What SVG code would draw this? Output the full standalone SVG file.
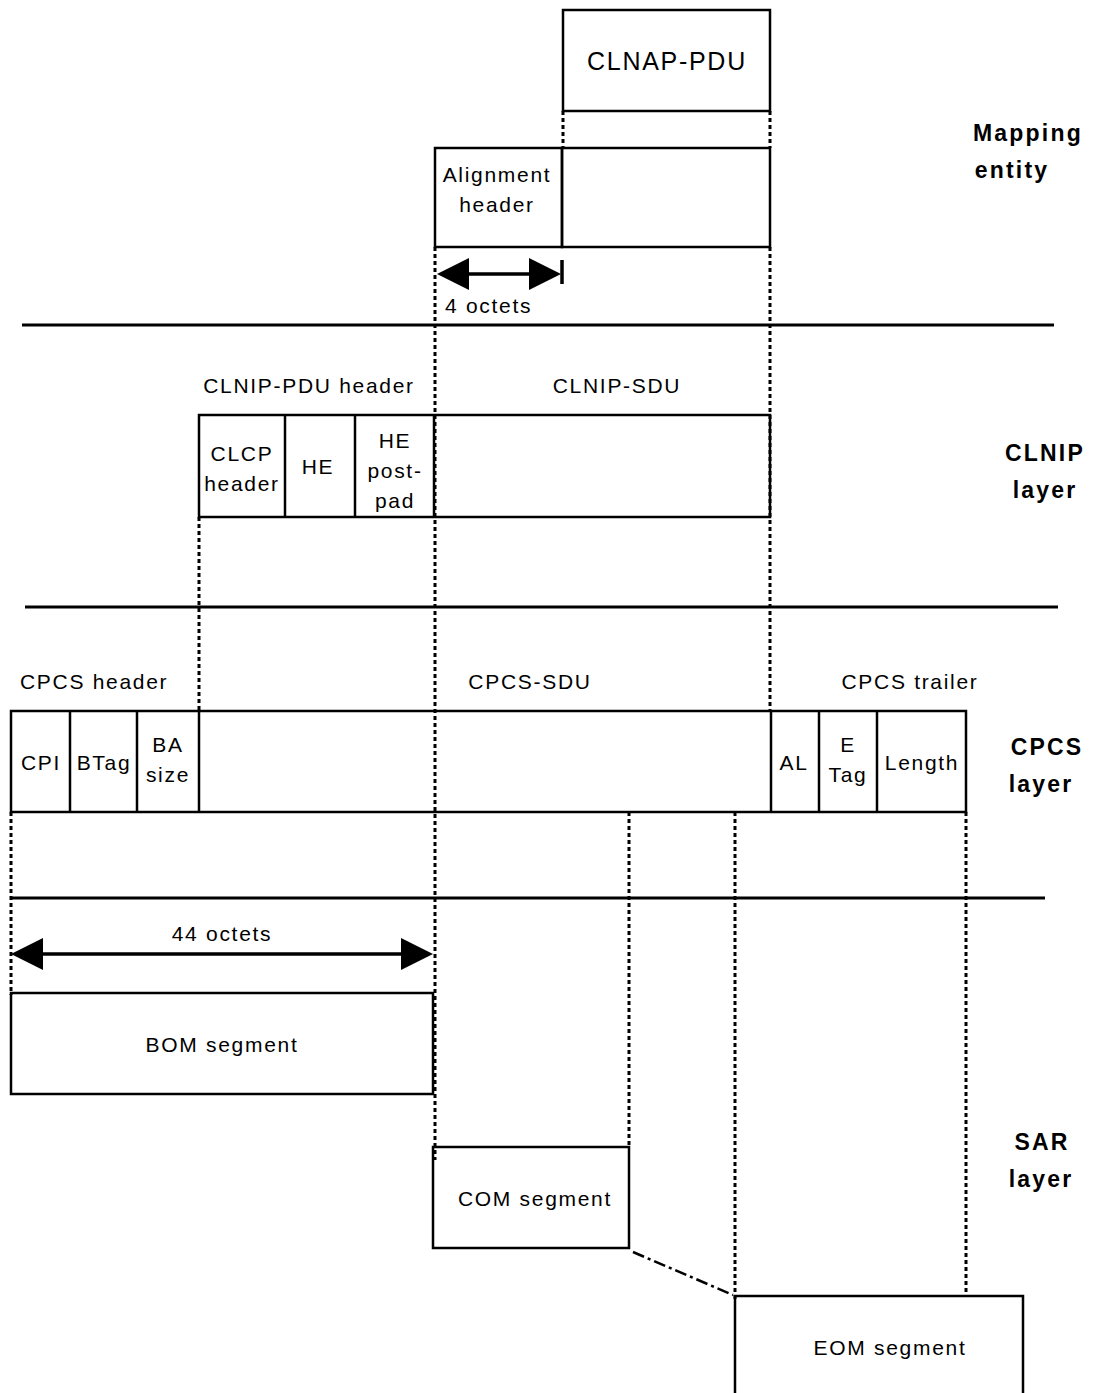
<svg xmlns="http://www.w3.org/2000/svg" width="1099" height="1393" viewBox="0 0 1099 1393">
<style>
.box{fill:none;stroke:#000;stroke-width:2.5}
.sep{stroke:#000;stroke-width:2.5}
.dot{stroke:#000;stroke-width:3;stroke-dasharray:4 3;fill:none}
.rule{stroke:#000;stroke-width:3}
.t{font-family:"Liberation Sans",Arial,sans-serif;font-size:21px;letter-spacing:1.7px;fill:#000}
.m{text-anchor:middle}
.b{font-family:"Liberation Sans",Arial,sans-serif;font-size:23px;font-weight:bold;letter-spacing:2.2px;text-anchor:middle;fill:#000}
.arr{stroke:#000;stroke-width:3.5}
</style>
<g id="rules">
<line class="rule" x1="22" y1="325" x2="1054" y2="325"/>
<line class="rule" x1="25" y1="607" x2="1058" y2="607"/>
<line class="rule" x1="11" y1="898" x2="1045" y2="898"/>
</g>
<g id="layer-labels">
<text class="b" x="1028" y="141">Mapping</text>
<text class="b" x="1012" y="178">entity</text>
<text class="b" x="1045" y="461">CLNIP</text>
<text class="b" x="1045" y="498">layer</text>
<text class="b" x="1047" y="755">CPCS</text>
<text class="b" x="1041" y="792">layer</text>
<text class="b" x="1042" y="1150">SAR</text>
<text class="b" x="1041" y="1187">layer</text>
</g>
<g id="clnap-pdu">
<rect class="box" x="563" y="10" width="207" height="101"/>
<text class="t m" x="667" y="70" style="font-size:25px">CLNAP-PDU</text>
</g>
<g id="alignment-header">
<rect class="box" x="435" y="148" width="127" height="99"/>
<text class="t m" x="497" y="182">Alignment</text>
<text class="t m" x="497" y="212">header</text>
</g>
<g id="mapping-payload">
<rect class="box" x="562" y="148" width="208" height="99"/>
</g>
<g id="four-octets">
<line class="arr" x1="455" y1="274" x2="540" y2="274"/>
<polygon points="437,274 469,258 469,290"/>
<polygon points="561,274 529,258 529,290"/>
<line class="arr" x1="562" y1="260" x2="562" y2="284"/>
<text class="t" x="445" y="313">4 octets</text>
</g>
<g id="clnip-pdu">
<text class="t m" x="309" y="393">CLNIP-PDU header</text>
<text class="t m" x="617" y="393">CLNIP-SDU</text>
<rect class="box" x="199" y="415" width="571" height="102"/>
<line class="sep" x1="285" y1="415" x2="285" y2="517"/>
<line class="sep" x1="355" y1="415" x2="355" y2="517"/>
<line class="sep" x1="434" y1="415" x2="434" y2="517"/>
<text class="t m" x="242" y="461">CLCP</text>
<text class="t m" x="242" y="491">header</text>
<text class="t m" x="318" y="474">HE</text>
<text class="t m" x="395" y="448">HE</text>
<text class="t m" x="395" y="478">post-</text>
<text class="t m" x="395" y="508">pad</text>
</g>
<g id="cpcs-pdu">
<text class="t" x="20" y="689">CPCS header</text>
<text class="t m" x="530" y="689">CPCS-SDU</text>
<text class="t m" x="910" y="689">CPCS trailer</text>
<rect class="box" x="11" y="711" width="955" height="101"/>
<line class="sep" x1="70" y1="711" x2="70" y2="812"/>
<line class="sep" x1="137" y1="711" x2="137" y2="812"/>
<line class="sep" x1="199" y1="711" x2="199" y2="812"/>
<line class="sep" x1="771" y1="711" x2="771" y2="812"/>
<line class="sep" x1="819" y1="711" x2="819" y2="812"/>
<line class="sep" x1="877" y1="711" x2="877" y2="812"/>
<text class="t m" x="41" y="770">CPI</text>
<text class="t m" x="104" y="770">BTag</text>
<text class="t m" x="168" y="752">BA</text>
<text class="t m" x="168" y="782">size</text>
<text class="t m" x="794" y="770">AL</text>
<text class="t m" x="848" y="752">E</text>
<text class="t m" x="848" y="782">Tag</text>
<text class="t m" x="922" y="770">Length</text>
</g>
<g id="forty-four-octets">
<line class="arr" x1="30" y1="954" x2="415" y2="954"/>
<polygon points="11,954 43,938 43,970"/>
<polygon points="433,954 401,938 401,970"/>
<text class="t m" x="222" y="941">44 octets</text>
</g>
<g id="bom-segment">
<rect class="box" x="11" y="993" width="422" height="101"/>
<text class="t m" x="222" y="1052">BOM segment</text>
</g>
<g id="com-segment">
<rect class="box" x="433" y="1147" width="196" height="101"/>
<text class="t m" x="535" y="1206">COM segment</text>
</g>
<g id="eom-segment">
<rect class="box" x="735" y="1296" width="288" height="110"/>
<text class="t m" x="890" y="1355">EOM segment</text>
</g>
<g id="connectors">
<line class="dot" x1="563" y1="111" x2="563" y2="148"/>
<line class="dot" x1="770" y1="111" x2="770" y2="148"/>
<line class="dot" x1="770" y1="247" x2="770" y2="711"/>
<line class="dot" x1="435" y1="247" x2="435" y2="1160"/>
<line class="dot" x1="199" y1="517" x2="199" y2="711"/>
<line class="dot" x1="11" y1="812" x2="11" y2="995"/>
<line class="dot" x1="629" y1="812" x2="629" y2="1147"/>
<line class="dot" x1="735" y1="812" x2="735" y2="1300"/>
<line class="dot" x1="966" y1="812" x2="966" y2="1296"/>
<line stroke="#000" stroke-width="2.5" stroke-dasharray="12 4 3 4" x1="633" y1="1252" x2="733" y2="1295"/>
</g>
</svg>
